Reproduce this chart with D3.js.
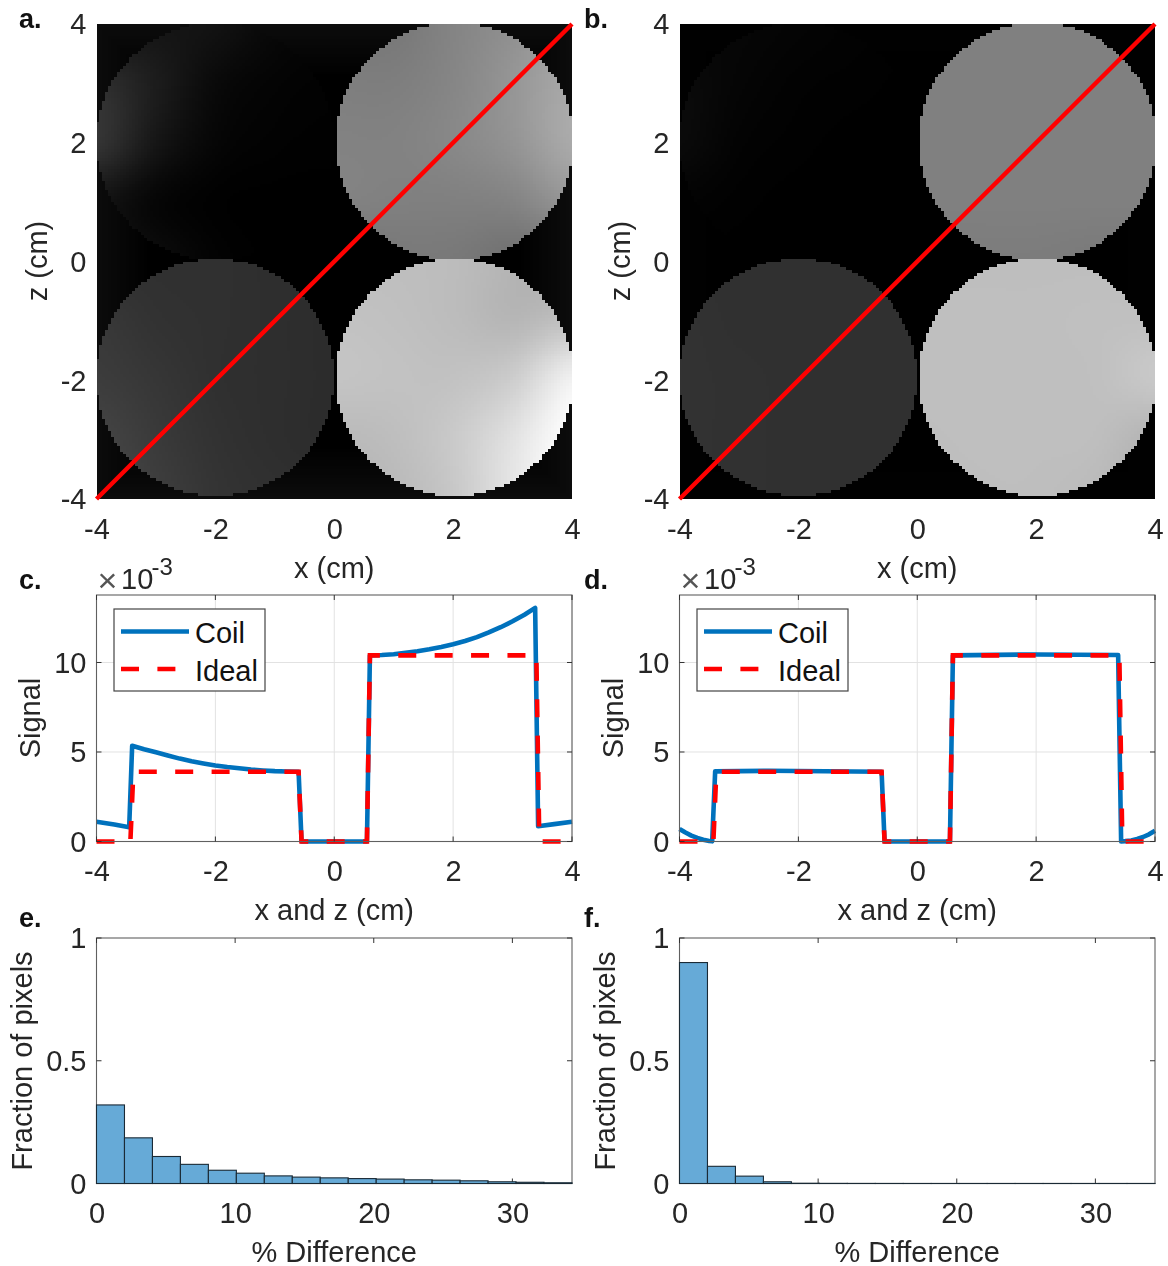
<!DOCTYPE html>
<html><head><meta charset="utf-8">
<script src="https://cdnjs.cloudflare.com/ajax/libs/d3/7.8.5/d3.min.js"></script>
<style>
html,body{margin:0;padding:0;background:#fff;overflow:hidden}
#wrap{position:relative;width:1168px;height:1266px;filter:blur(0.45px)}
canvas,svg{position:absolute;left:0;top:0}
text{font-family:"Liberation Sans",Arial,sans-serif;fill:#262626}
</style></head><body><div id="wrap"></div>
<script>
// ---------- data ----------
const imageXTicks=[-4,-2,0,2,4], imageZTicks=[-4,-2,0,2,4];
const diskCentres=[[-2,2.025],[2.025,2.025],[-2,-1.95],[2.025,-1.95]];
const diskRadius=1.999;
// grey levels on a 1 cm grid, rows from top to bottom of each disk
const aTopLeft=[[16,20,18,8,4],[46,28,10,4,2],[52,22,6,2,1],[20,6,1,0,0],[20,12,3,0,0]];
const aTopRight=[[120,120,132,144,160],[126,126,134,150,168],[130,130,136,148,170],[130,128,128,132,150],[112,120,120,112,112]];
const aBottomLeft=[[48,48,48,46,46],[56,50,48,46,44],[60,54,48,46,44],[68,58,50,46,44],[72,62,52,48,46]];
const aBottomRight=[[190,190,188,180,170],[194,192,188,182,192],[196,194,194,205,240],[186,190,202,226,255],[180,186,200,230,255]];
const bTopLeft=[[6,6,4,2,1],[10,5,2,1,0],[10,3,1,0,0],[3,1,0,0,0],[1,0,0,0,0]];
const bTopRight=[[128,128,128,128,128],[128,128,128,128,128],[128,128,128,128,128],[128,128,128,128,128],[124,124,124,122,122]];
const bBottomLeft=[[48,48,48,48,48],[50,48,48,48,48],[50,49,48,48,48],[50,49,48,48,48],[50,49,48,48,48]];
const bBottomRight=[[190,190,190,190,190],[191,191,191,192,192],[191,191,191,192,200],[190,191,191,190,180],[188,190,190,186,174]];
const aBackground=12, bBackground=1;

const signalX=[-4,-2,0,2,4], signalYTicks=[0,5,10];
const coilCx=[-4,-3.7,-3.45,-3.4,-3.2,-3,-2.8,-2.6,-2.4,-2.2,-2,-1.8,-1.6,-1.4,-1.2,-1,-0.8,-0.6,-0.55,0.55,0.6,0.8,1,1.2,1.4,1.6,1.8,2,2.2,2.4,2.6,2.8,3,3.2,3.38,3.43,3.7,4];
const coilCy=[1.1,0.95,0.8,5.35,5.15,4.98,4.8,4.63,4.48,4.36,4.25,4.16,4.09,4.02,3.97,3.93,3.91,3.9,0,0,10.4,10.42,10.46,10.54,10.63,10.74,10.87,11.02,11.2,11.42,11.68,11.97,12.3,12.67,13.05,0.85,0.97,1.1];
const coilDx=[-4,-3.9,-3.8,-3.7,-3.6,-3.5,-3.45,-3.4,-2.5,-0.6,-0.55,0.55,0.6,2,3.38,3.43,3.5,3.6,3.7,3.8,3.9,4];
const coilDy=[0.7,0.5,0.33,0.2,0.1,0.03,0.01,3.92,3.95,3.9,0,0,10.4,10.45,10.42,0,0.02,0.06,0.14,0.25,0.4,0.6];
const idealX=[-4,-3.43,-3.38,-0.6,-0.55,0.55,0.6,3.4,3.45,4];
const idealY=[0,0,3.9,3.9,0,0,10.4,10.4,0,0];

const histMax=34.3;
const histTicks=[0,10,20,30], histYTicks=[0,0.5,1];
const histE=[0.32,0.186,0.11,0.078,0.054,0.042,0.031,0.026,0.023,0.02,0.018,0.015,0.0136,0.011,0.007,0.005,0.003];
const histF=[0.9,0.07,0.03,0.007,0.001,0.0005,0.0003,0.0002,0.0001,0.0001,0.0001,0.0001,0.0001,0.0001,0.0001,0.0001,0.0001];

// ---------- layout ----------
const colX=[[96.5,572],[679.5,1155]];
const W=1168,H=1266,COL="#262626",BOX="#606060",FS=29;
const wrap=d3.select("#wrap");
const canvas=wrap.append("canvas").attr("width",W).attr("height",H).node();
const ctx=canvas.getContext("2d");
const svg=wrap.append("svg").attr("width",W).attr("height",H);
ctx.fillStyle="#fff";ctx.fillRect(0,0,W,H);

function frame(x,y,xTicks,yTicks,grid){
  const g=svg.append("g");
  const [x0,x1]=x.range(),[y0,y1]=y.range();
  if(grid){
    g.selectAll(".gx").data(xTicks).join("line").attr("x1",d=>x(d)).attr("x2",d=>x(d)).attr("y1",y0).attr("y2",y1).attr("stroke","#e2e2e2");
    g.selectAll(".gy").data(yTicks).join("line").attr("x1",x0).attr("x2",x1).attr("y1",d=>y(d)).attr("y2",d=>y(d)).attr("stroke","#e2e2e2");
  }
  return {g,finish(showBox){
    const ax=d3.axisBottom(x).tickValues(xTicks).tickFormat(d=>String(d)).tickSizeInner(0).tickSizeOuter(0).tickPadding(19);
    const ay=d3.axisLeft(y).tickValues(yTicks).tickFormat(d=>String(d)).tickSizeInner(0).tickSizeOuter(0).tickPadding(10);
    const gx=svg.append("g").attr("transform",`translate(0,${y0})`).call(ax);
    const gy=svg.append("g").attr("transform",`translate(${x0},0.5)`).call(ay);
    [gx,gy].forEach(s=>{s.selectAll("text").style("font-size",FS+"px").attr("fill",COL);s.select(".domain").remove();});
    if(showBox){
      svg.append("rect").attr("x",x0).attr("y",y1).attr("width",x1-x0).attr("height",y0-y1).attr("fill","none").attr("stroke",BOX).attr("stroke-width",1.1);
      const t=svg.append("g").attr("stroke","#333");
      xTicks.forEach(d=>{t.append("line").attr("x1",x(d)).attr("x2",x(d)).attr("y1",y0).attr("y2",y0-5);t.append("line").attr("x1",x(d)).attr("x2",x(d)).attr("y1",y1).attr("y2",y1+5);});
      yTicks.forEach(d=>{t.append("line").attr("x1",x0).attr("x2",x0+5).attr("y1",y(d)).attr("y2",y(d));t.append("line").attr("x1",x1).attr("x2",x1-5).attr("y1",y(d)).attr("y2",y(d));});
    }
  }};
}
function label(t,x,y,rot){
  return svg.append("text").text(t).attr("text-anchor","middle").style("font-size",FS+"px")
    .attr("transform",`translate(${x},${y})`+(rot?" rotate(-90)":""));
}
function panelLabel(t,x,y){
  svg.append("text").text(t).attr("x",x).attr("y",y).style("font-size","27px").style("font-weight","700").style("fill","#111");
}
function cr(p0,p1,p2,p3,t){
  return 0.5*(2*p1+(p2-p0)*t+(2*p0-5*p1+4*p2-p3)*t*t+(3*p1-p0-3*p2+p3)*t*t*t);
}
function smooth(grid,u,v){
  const n=grid.length-1,uu=Math.min(Math.max(u,0),1)*n,vv=Math.min(Math.max(v,0),1)*n;
  const i=Math.min(Math.floor(vv),n-1),j=Math.min(Math.floor(uu),n-1),f=vv-i,e=uu-j;
  const cl=(k)=>Math.max(0,Math.min(n,k));
  const row=r=>cr(grid[r][cl(j-1)],grid[r][j],grid[r][j+1],grid[r][cl(j+2)],e);
  return Math.max(0,Math.min(255,cr(row(cl(i-1)),row(i),row(i+1),row(cl(i+2)),f)));
}
function imagePanel(col,grids,bg){
  const x=d3.scaleLinear([-4,4],colX[col]),y=d3.scaleLinear([-4,4],[499,24]);
  const step=0.05,N=160;
  for(let zi=0;zi<N;zi++)for(let xi=0;xi<N;xi++){
    const cx=-4+(xi+.5)*step,cz=-4+(zi+.5)*step;
    let v=null;
    diskCentres.forEach((c,k)=>{
      if(Math.hypot(cx-c[0],cz-c[1])<=diskRadius) v=smooth(grids[k],(cx-c[0]+2)/4,(c[1]+2-cz)/4);
    });
    if(v===null){
      v=bg*Math.max(0,1-Math.min(4-Math.abs(cx),4-Math.abs(cz))/0.9);
      if(Math.abs(cx)<0.6&&Math.abs(cz)<0.6)v=0;
    }
    const g=Math.round(v);
    ctx.fillStyle=`rgb(${g},${g},${g})`;
    const a=Math.round(x(-4+xi*step)),b=Math.round(x(-4+(xi+1)*step)),p=Math.round(y(-4+(zi+1)*step)),q=Math.round(y(-4+zi*step));
    ctx.fillRect(a,p,b-a,q-p);
  }
  const f=frame(x,y,imageXTicks,imageZTicks,false);
  const line=d3.line().x(d=>x(d)).y(d=>y(d));
  f.g.append("path").attr("d",line([-4,4])).attr("stroke","#ff0000").attr("stroke-width",4.4).attr("fill","none");
  f.finish(false);
  const cx=(colX[col][0]+colX[col][1])/2;
  label("x (cm)",cx,578);
  label("z (cm)",colX[col][0]-50,261,true);
}
function signalPanel(col,cx_,cy_){
  const x=d3.scaleLinear([-4,4],colX[col]),y=d3.scaleLinear([0,13.77],[841.5,595]);
  const f=frame(x,y,signalX,signalYTicks,true);
  const line=d3.line().x(d=>x(d[0])).y(d=>y(d[1]));
  f.g.append("path").attr("d",line(d3.zip(cx_,cy_))).attr("stroke","#0072bd").attr("stroke-width",4.6).attr("fill","none").attr("stroke-linejoin","round");
  f.g.append("path").attr("d",line(d3.zip(idealX,idealY))).attr("stroke","#ff0000").attr("stroke-width",4.6).attr("fill","none").attr("stroke-dasharray","18,18.4");
  f.finish(true);
  const L=colX[col][0];
  const lg=svg.append("g").attr("transform",`translate(${L+17.5},609)`);
  lg.append("rect").attr("width",151).attr("height",82).attr("fill","#fff").attr("stroke","#444").attr("stroke-width",1.2);
  lg.append("line").attr("x1",7).attr("x2",75).attr("y1",22.5).attr("y2",22.5).attr("stroke","#0072bd").attr("stroke-width",4.6);
  lg.append("line").attr("x1",7).attr("x2",75).attr("y1",60).attr("y2",60).attr("stroke","#ff0000").attr("stroke-width",4.6).attr("stroke-dasharray","18,18.4");
  lg.append("text").text("Coil").attr("x",81).attr("y",34).style("font-size",FS+"px").style("fill","#111");
  lg.append("text").text("Ideal").attr("x",81).attr("y",72).style("font-size",FS+"px").style("fill","#111");
  svg.append("text").text("×").attr("x",L+1).attr("y",592).style("font-size","34px").style("fill","#555");
  svg.append("text").text("10").attr("x",L+24.5).attr("y",589).style("font-size",FS+"px");
  svg.append("text").text("-3").attr("x",L+55).attr("y",575).style("font-size","24px");
  const cx=(colX[col][0]+colX[col][1])/2;
  label("x and z (cm)",cx,920);
  label("Signal",L-57,718,true);
}
function histPanel(col,vals){
  const x=d3.scaleLinear([0,histMax],colX[col]),y=d3.scaleLinear([0,1],[1183.5,938]);
  const f=frame(x,y,histTicks,histYTicks,false);
  f.finish(true);
  const bw=histMax/vals.length;
  svg.append("g").selectAll("rect").data(vals).join("rect")
    .attr("x",(d,i)=>x(i*bw)).attr("width",x(bw)-x(0))
    .attr("y",d=>y(d)).attr("height",d=>y(0)-y(d))
    .attr("fill","#66aad7").attr("stroke","#1a2a35").attr("stroke-width",1.1);
  const cx=(colX[col][0]+colX[col][1])/2;
  label("% Difference",cx,1262);
  label("Fraction of pixels",colX[col][0]-65,1061,true);
}
imagePanel(0,[aTopLeft,aTopRight,aBottomLeft,aBottomRight],aBackground);
imagePanel(1,[bTopLeft,bTopRight,bBottomLeft,bBottomRight],bBackground);
signalPanel(0,coilCx,coilCy);
signalPanel(1,coilDx,coilDy);
histPanel(0,histE);
histPanel(1,histF);
panelLabel("a.",19,28);panelLabel("b.",584,28);
panelLabel("c.",19,589);panelLabel("d.",584,589);
panelLabel("e.",19,927);panelLabel("f.",584,927);
</script></body></html>
